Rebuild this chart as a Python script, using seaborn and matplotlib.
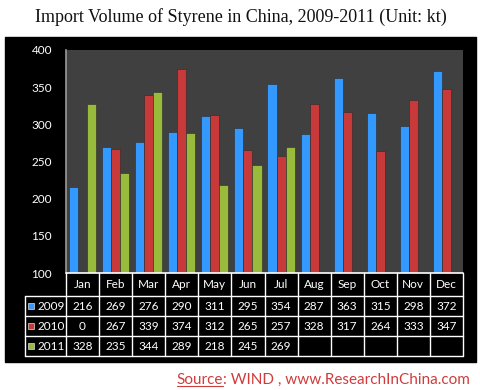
import numpy as np
import pandas as pd
import seaborn as sns
import matplotlib.pyplot as plt
from matplotlib.patches import Rectangle
from matplotlib.transforms import blended_transform_factory

months = ["Jan", "Feb", "Mar", "Apr", "May", "Jun",
          "Jul", "Aug", "Sep", "Oct", "Nov", "Dec"]
years = ["2009", "2010", "2011"]
v2009 = [216, 269, 276, 290, 311, 295, 354, 287, 363, 315, 298, 372]
v2010 = [0, 267, 339, 374, 312, 265, 257, 328, 317, 264, 333, 347]
v2011 = [328, 235, 344, 289, 218, 245, 269, None, None, None, None, None]
yticks = [100, 150, 200, 250, 300, 350, 400]

colors = ["#3399FF", "#C83A3A", "#99BB3C"]

W, H = 481, 390


def fx(x):
    return x / W


def fy(y):
    return 1 - y / H


series = [v2009, v2010, v2011]
df = pd.DataFrame({
    "month": months * 3,
    "year": [y for y in years for _ in months],
    "value": [np.nan if v is None else v for s in series for v in s],
})

sns.set_theme(style="white")
plt.rcParams["font.family"] = ["Lato", "DejaVu Sans"]

fig = plt.figure(figsize=(W / 100, H / 100), dpi=100, facecolor="white")
fig.patches.append(Rectangle((fx(5), fy(362)), fx(476) - fx(5), fy(37) - fy(362),
                             transform=fig.transFigure, color="black", zorder=-10))

ax = fig.add_axes([fx(66), fy(273), fx(463) - fx(66), fy(50) - fy(273)])
ax.set_facecolor("#404040")

sns.barplot(data=df, x="month", y="value", hue="year", order=months,
            hue_order=years, palette=colors, width=0.82, gap=0,
            saturation=1, legend=False, ax=ax, zorder=3)
for p in ax.patches:
    p.set_edgecolor("#2a2a2a")
    p.set_linewidth(0.4)

ax.set_xlim(-0.5, len(months) - 0.5)
ax.set_ylim(100, 400)
ax.set_yticks(yticks)
ax.set_yticklabels([str(t) for t in yticks], color="white", fontsize=8.5)
ax.tick_params(axis="y", length=0, pad=10)
ax.set_xticks([])
ax.set_xlabel("")
ax.set_ylabel("")
for s in ["top", "right"]:
    ax.spines[s].set_visible(False)
ax.spines["left"].set_color("#9a9a9a")
ax.spines["left"].set_linewidth(1.2)
ax.spines["bottom"].set_visible(False)

# data table below the plot
tr = blended_transform_factory(ax.transData, fig.transFigure)
lc = "white"
rows_y = [273, 296, 316, 336, 356]
x_left, x_right = -0.5, len(months) - 0.5
fig.add_artist(plt.Line2D([x_left, x_right], [fy(273)] * 2, transform=tr, color=lc, lw=1.2))
for y in rows_y[1:]:
    fig.add_artist(plt.Line2D([fx(25), fx(463)], [fy(y)] * 2,
                              transform=fig.transFigure, color=lc, lw=1))
fig.add_artist(plt.Line2D([fx(25)] * 2, [fy(296), fy(356)],
                          transform=fig.transFigure, color=lc, lw=1))
for i in range(len(months) + 1):
    fig.add_artist(plt.Line2D([i - 0.5] * 2, [fy(273), fy(356)], transform=tr, color=lc, lw=1))

for i, m in enumerate(months):
    fig.text(i, fy((273 + 296) / 2), m, transform=tr, ha="center", va="center",
             color="white", fontsize=8.5)
for r, (yr, s, c) in enumerate(zip(years, series, colors)):
    yc = fy((rows_y[r + 1] + rows_y[r + 2]) / 2)
    fig.patches.append(Rectangle((fx(28), yc - 3 / H), 6 / W, 6 / H,
                                 transform=fig.transFigure, facecolor=c,
                                 edgecolor="#dddddd", lw=0.5))
    fig.text(fx(37), yc, yr, ha="left", va="center", color="white", fontsize=8.5)
    for i, v in enumerate(s):
        if v is not None:
            fig.text(i, yc, str(v), transform=tr, ha="center", va="center",
                     color="white", fontsize=8.5)

fig.text(0.5, fy(17), "Import Volume of Styrene in China, 2009-2011 (Unit: kt)",
         ha="center", va="center", fontsize=13, family=["Liberation Serif"],
         color="#111111")

# source line, "Source" underlined
src_color = "#D03C3C"
rest = fig.text(fx(470), fy(384), ": WIND , www.ResearchInChina.com", ha="right",
                va="baseline", fontsize=11, color=src_color)
renderer = fig.canvas.get_renderer()
bb = rest.get_window_extent(renderer)
src = fig.text(bb.x0 / W, fy(384), "Source", ha="right", va="baseline",
               fontsize=11, color=src_color)
sb = src.get_window_extent(renderer)
fig.add_artist(plt.Line2D([sb.x0 / W, sb.x1 / W], [fy(386)] * 2,
                          transform=fig.transFigure, color=src_color, lw=0.8))

fig.savefig("out.png", dpi=100, facecolor="white")
